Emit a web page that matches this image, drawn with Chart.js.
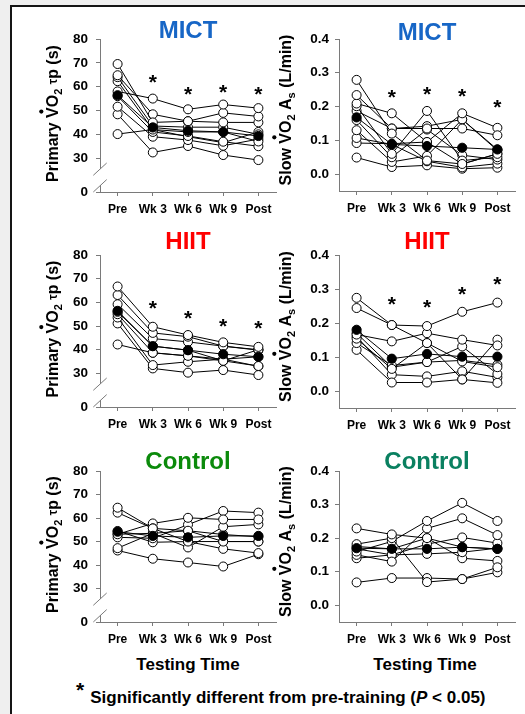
<!DOCTYPE html>
<html>
<head>
<meta charset="utf-8">
<script src="https://cdn.jsdelivr.net/npm/chart.js@4.4.0/dist/chart.umd.min.js"></script>
<style>
  body { margin: 0; width: 525px; height: 714px; overflow: hidden; background: #efefef; font-family: "Liberation Sans", Arial, sans-serif; }
  #frame { position: absolute; left: 10px; top: 5px; width: 600px; height: 800px; background: #fff; border-left: 2px solid #151515; border-top: 2px solid #151515; }
  canvas { position: absolute; }
  .xt { position: absolute; width: 200px; text-align: center; font-weight: bold; font-size: 17px; line-height: 20px; color: #000; }
  #note { position: absolute; left: 76px; top: 686px; font-weight: bold; font-size: 17px; line-height: 20px; color: #000; white-space: nowrap; }
  #note .ast { font-size: 21px; position: relative; top: -6px; margin-right: 6px; }
</style>
</head>
<body>
<div id="frame"></div>
<div class="xt" style="left:88px;top:655px">Testing Time</div>
<div class="xt" style="left:325px;top:655px">Testing Time</div>
<div id="note"><span class="ast">*</span>Significantly different from pre-training (<i>P</i> &lt; 0.05)</div>
<script>
// time points and axis ticks
const timePoints = ['Pre', 'Wk 3', 'Wk 6', 'Wk 9', 'Post'];
const tauTicks = [30, 40, 50, 60, 70, 80];
const ampTicks = [0, 0.1, 0.2, 0.3, 0.4];

// MICT - primary tau (s), one row per subject
const mictTau = [
  [58.0, 55.0, 50.5, 52.5, 51.0],
  [69.5, 45.0, 45.5, 49.0, 47.5],
  [64.8, 48.4, 45.5, 45.0, 45.0],
  [64.0, 43.5, 43.0, 43.0, 40.0],
  [62.3, 42.0, 41.0, 41.0, 37.0],
  [56.0, 41.0, 39.3, 36.9, 35.0],
  [51.6, 39.0, 37.6, 35.2, 38.0],
  [48.4, 32.4, 35.1, 31.3, 29.2],
  [40.1, 42.0, 39.0, 36.5, 41.0]
];
const mictTauMean = [56.4, 42.9, 41.5, 41.0, 39.3];
const mictTauStars = [null, 64.0, 58.9, 60.0, 58.9];

// MICT - slow component amplitude (L/min)
const mictAmp = [
  [0.279, 0.120, 0.040, 0.030, 0.060],
  [0.234, 0.135, 0.135, 0.135, 0.115],
  [0.209, 0.180, 0.095, 0.180, 0.137],
  [0.201, 0.060, 0.187, 0.040, 0.050],
  [0.187, 0.135, 0.142, 0.162, 0.070],
  [0.160, 0.050, 0.132, 0.056, 0.043],
  [0.130, 0.036, 0.054, 0.162, 0.073],
  [0.107, 0.088, 0.038, 0.020, 0.031],
  [0.092, 0.090, 0.095, 0.030, 0.060],
  [0.049, 0.021, 0.026, 0.016, 0.019]
];
const mictAmpMean = [0.168, 0.088, 0.083, 0.078, 0.073];
const mictAmpStars = [null, 0.244, 0.251, 0.247, 0.214];

// HIIT - primary tau (s)
const hiitTau = [
  [66.7, 49.7, 46.2, 43.1, 41.2],
  [63.1, 47.1, 45.5, 41.5, 40.0],
  [59.2, 44.7, 43.3, 41.5, 39.8],
  [56.0, 41.5, 39.8, 35.3, 33.1],
  [55.0, 38.7, 37.4, 35.3, 40.0],
  [53.6, 33.5, 34.9, 36.0, 37.0],
  [51.1, 32.1, 30.3, 31.4, 29.3],
  [42.2, 38.7, 37.4, 36.0, 33.0]
];
const hiitTauMean = [56.4, 41.5, 39.8, 38.1, 37.0];
const hiitTauStars = [null, 59.8, 55.3, 52.2, 51.1];

// HIIT - slow component amplitude (L/min)
const hiitAmp = [
  [0.274, 0.194, 0.191, 0.233, 0.260],
  [0.244, 0.194, 0.141, 0.087, 0.070],
  [0.166, 0.146, 0.170, 0.151, 0.134],
  [0.154, 0.065, 0.141, 0.034, 0.151],
  [0.141, 0.075, 0.085, 0.131, 0.050],
  [0.121, 0.025, 0.025, 0.034, 0.024],
  [0.160, 0.048, 0.043, 0.058, 0.040],
  [0.170, 0.070, 0.085, 0.090, 0.077]
];
const hiitAmpMean = [0.180, 0.095, 0.109, 0.101, 0.101];
const hiitAmpStars = [null, 0.272, 0.262, 0.300, 0.328];

// Control - primary tau (s)
const ctrlTau = [
  [64.4, 55.6, 54.6, 50.0, 50.0],
  [62.3, 55.6, 50.0, 46.9, 45.1],
  [53.1, 57.7, 60.1, 59.4, 59.4],
  [51.8, 51.4, 57.2, 63.0, 62.3],
  [53.1, 53.5, 47.5, 56.3, 57.3],
  [47.2, 53.5, 54.6, 53.0, 52.0],
  [46.2, 42.7, 41.1, 39.4, 44.6],
  [54.5, 49.7, 50.0, 50.0, 50.0]
];
const ctrlTauMean = [54.2, 52.4, 51.8, 52.4, 52.4];

// Control - slow component amplitude (L/min)
const ctrlAmp = [
  [0.229, 0.211, 0.200, 0.173, 0.168],
  [0.182, 0.200, 0.069, 0.078, 0.113],
  [0.160, 0.190, 0.251, 0.305, 0.251],
  [0.150, 0.130, 0.229, 0.259, 0.209],
  [0.140, 0.150, 0.182, 0.202, 0.185],
  [0.168, 0.150, 0.153, 0.158, 0.170],
  [0.068, 0.081, 0.081, 0.078, 0.098],
  [0.175, 0.168, 0.200, 0.140, 0.132]
];
const ctrlAmpMean = [0.170, 0.168, 0.168, 0.173, 0.168];

const FONT = '"Liberation Sans", Arial, sans-serif';
const AXIS = '#7a7a7a';
const TAU_BOTTOM = 15.8;   // broken axis: bottom of the scale is labelled 0
const AMP_BOTTOM = -0.05;

const panels = [
  { title: 'MICT', color: '#1766c6', kind: 'tau', subjects: mictTau, mean: mictTauMean, stars: mictTauStars, box: [100, 39, 276, 192], titleGap: 8 },
  { title: 'MICT', color: '#1766c6', kind: 'amp', subjects: mictAmp, mean: mictAmpMean, stars: mictAmpStars, box: [339, 39, 515, 191], titleGap: 6 },
  { title: 'HIIT', color: '#ff0000', kind: 'tau', subjects: hiitTau, mean: hiitTauMean, stars: hiitTauStars, box: [100, 255, 276, 407], titleGap: 13 },
  { title: 'HIIT', color: '#ff0000', kind: 'amp', subjects: hiitAmp, mean: hiitAmpMean, stars: hiitAmpStars, box: [339, 255, 515, 408], titleGap: 13 },
  { title: 'Control', color: '#0b8a0b', kind: 'tau', subjects: ctrlTau, mean: ctrlTauMean, stars: null, box: [100, 471, 276, 622], titleGap: 9 },
  { title: 'Control', color: '#0a8060', kind: 'amp', subjects: ctrlAmp, mean: ctrlAmpMean, stars: null, box: [339, 471, 515, 622], titleGap: 9 }
];

// rotated y title built from runs (subscripts, dot over V)
function drawYTitle(ctx, runs, cx, cy) {
  ctx.save();
  ctx.translate(cx, cy);
  ctx.rotate(-Math.PI / 2);
  let total = 0;
  runs.forEach(r => {
    ctx.font = `bold ${r.s}px ${FONT}`;
    r.w = ctx.measureText(r.t).width;
    total += r.w;
  });
  let x = -total / 2;
  const base = 16 * 0.36;
  ctx.fillStyle = '#000';
  ctx.textBaseline = 'alphabetic';
  ctx.textAlign = 'left';
  runs.forEach(r => {
    ctx.font = `bold ${r.s}px ${FONT}`;
    ctx.fillText(r.t, x, base + (r.dy || 0));
    if (r.dot) {
      ctx.beginPath();
      ctx.arc(x + r.w / 2 + 1, base - 16 * 0.716 - 5, 2.1, 0, Math.PI * 2);
      ctx.fill();
    }
    x += r.w;
  });
  ctx.restore();
}

const tauTitle = [
  { t: 'Primary ', s: 16 }, { t: 'V', s: 16, dot: true }, { t: 'O', s: 16 },
  { t: '2', s: 11, dy: 4 }, { t: ' ', s: 16 }, { t: 'τ', s: 12, dy: -1 }, { t: 'p (s)', s: 16 }
];
const ampTitle = [
  { t: 'Slow ', s: 16 }, { t: 'V', s: 16, dot: true }, { t: 'O', s: 16 },
  { t: '2', s: 11, dy: 4 }, { t: ' A', s: 16 }, { t: 's', s: 11, dy: 4 }, { t: ' (L/min)', s: 16 }
];

const panelDecor = {
  id: 'panelDecor',
  afterDraw(chart, args, p) {
    const { ctx, chartArea: a, scales } = chart;
    const tau = p.kind === 'tau';
    // panel title
    ctx.save();
    ctx.font = `bold 24px ${FONT}`;
    ctx.fillStyle = p.color;
    ctx.textAlign = 'center';
    ctx.textBaseline = 'middle';
    ctx.fillText(p.title, (a.left + a.right) / 2, a.top - p.titleGap);
    // significance stars
    if (p.stars) {
      ctx.font = `bold 21px ${FONT}`;
      ctx.fillStyle = '#000';
      ctx.textBaseline = 'alphabetic';
      p.stars.forEach((v, i) => {
        if (v == null) return;
        ctx.fillText('*', scales.x.getPixelForValue(i), scales.y.getPixelForValue(v) + 12);
      });
    }
    // axis break on the tau panels
    if (tau) {
      ctx.fillStyle = '#fff';
      ctx.fillRect(a.left - 2, a.bottom - 23, 4, 16);
      ctx.strokeStyle = AXIS;
      ctx.lineWidth = 1;
      ctx.beginPath();
      ctx.moveTo(a.left - 6.7, a.bottom - 16.7);
      ctx.lineTo(a.left + 6.7, a.bottom - 29);
      ctx.moveTo(a.left - 6.7, a.bottom);
      ctx.lineTo(a.left + 6.7, a.bottom - 12.4);
      ctx.stroke();
    }
    ctx.restore();
    if (tau) drawYTitle(ctx, tauTitle, a.left - 48, (a.top + a.bottom) / 2 - 2);
    else drawYTitle(ctx, ampTitle, a.left - 54, (a.top + a.bottom) / 2 - 5);
  }
};

function makePanel(p) {
  const tau = p.kind === 'tau';
  const yw = tau ? 65 : 70;
  const [l, t, r, b] = p.box;
  const cv = document.createElement('canvas');
  cv.width = r - l + yw + 10;
  cv.height = b - t + 30 + 40;
  cv.style.left = (l - yw) + 'px';
  cv.style.top = (t - 30) + 'px';
  document.body.appendChild(cv);

  const datasets = p.subjects.map(s => ({
    data: s,
    borderColor: '#000', borderWidth: 1,
    pointRadius: 4.5, pointBorderWidth: 1,
    pointBackgroundColor: '#fff', pointBorderColor: '#000'
  }));
  datasets.push({
    data: p.mean, order: -1,
    borderColor: '#000', borderWidth: 1,
    pointRadius: 4.6, pointBorderWidth: 1,
    pointBackgroundColor: '#000', pointBorderColor: '#000'
  });

  const bottom = tau ? TAU_BOTTOM : AMP_BOTTOM;
  const ticks = tau ? [TAU_BOTTOM, ...tauTicks] : ampTicks;

  new Chart(cv, {
    type: 'line',
    data: { labels: timePoints, datasets },
    options: {
      responsive: false,
      animation: false,
      clip: false,
      layout: { padding: { top: 30, right: 10, bottom: 0, left: 0 } },
      plugins: { legend: { display: false }, tooltip: { enabled: false }, panelDecor: p },
      elements: { line: { tension: 0 } },
      scales: {
        x: {
          offset: true,
          grid: { drawOnChartArea: false, drawTicks: true, tickLength: 4, color: AXIS },
          border: { color: AXIS, width: 1 },
          ticks: { color: '#000', padding: 6, font: { family: FONT, size: 12, weight: 'bold' }, maxRotation: 0, autoSkip: false },
          afterFit: s => { s.height = 40; }
        },
        y: {
          min: bottom,
          max: tau ? 80 : 0.4,
          grid: { drawOnChartArea: false, drawTicks: true, tickLength: 4, color: AXIS },
          border: { color: AXIS, width: 1 },
          ticks: {
            color: '#000',
            padding: tau ? 8 : 6,
            font: { family: FONT, size: 13.5, weight: 'bold' },
            callback: v => tau ? (v === TAU_BOTTOM ? '0' : String(v)) : v.toFixed(1)
          },
          afterBuildTicks: s => { s.ticks = ticks.map(v => ({ value: v })); },
          afterFit: s => { s.width = yw; }
        }
      }
    },
    plugins: [panelDecor]
  });
}

panels.forEach(makePanel);
</script>
</body>
</html>
